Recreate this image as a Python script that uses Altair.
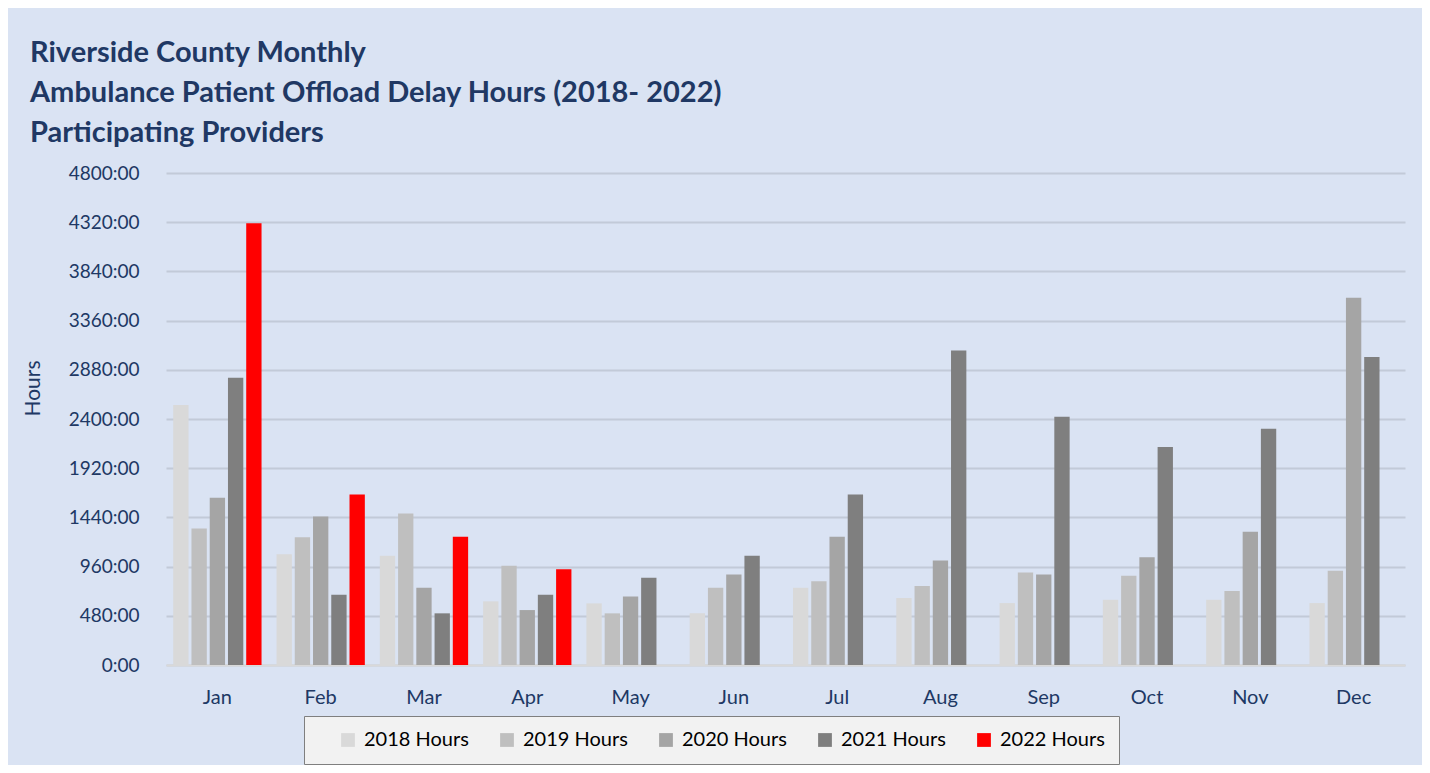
import altair as alt
import pandas as pd

months = ["Jan", "Feb", "Mar", "Apr", "May", "Jun", "Jul", "Aug", "Sep", "Oct", "Nov", "Dec"]
series = ["2018 Hours", "2019 Hours", "2020 Hours", "2021 Hours", "2022 Hours"]
colors = ["#d9d9d9", "#bfbfbf", "#a5a5a5", "#7f7f7f", "#ff0000"]

h2018 = [2537, 1081, 1066, 621, 601, 504, 754, 653, 604, 637, 637, 604]
h2019 = [1332, 1247, 1478, 968, 504, 754, 818, 770, 903, 871, 721, 920]
h2020 = [1631, 1449, 754, 536, 669, 884, 1251, 1020, 884, 1052, 1300, 3582]
h2021 = [2803, 686, 504, 686, 851, 1066, 1663, 3069, 2423, 2128, 2306, 3004]
h2022 = [4310, 1663, 1251, 935]

rows = []
for s, vals in zip(series, [h2018, h2019, h2020, h2021, h2022]):
    for m, v in zip(months, vals):
        rows.append({"month": m, "series": s, "hours": v})
df = pd.DataFrame(rows)

NAVY = "#203864"
FONT = "Lato"

chart = (
    alt.Chart(df)
    .mark_bar()
    .encode(
        x=alt.X(
            "month:N",
            sort=months,
            scale=alt.Scale(paddingInner=0.145, paddingOuter=0.07),
            axis=alt.Axis(
                title=None,
                labelAngle=0,
                ticks=False,
                domainColor="#d9d9d9",
                domainWidth=2,
                labelPadding=22,
                labelFontSize=20,
                labelFont=FONT,
                labelColor=NAVY,
            ),
        ),
        xOffset=alt.XOffset("series:N", sort=series, scale=alt.Scale(paddingInner=0.16)),
        y=alt.Y(
            "hours:Q",
            scale=alt.Scale(domain=[0, 4800]),
            axis=alt.Axis(
                title="Hours",
                values=list(range(0, 4801, 480)),
                labelExpr="datum.value + ':00'",
                domain=False,
                ticks=False,
                gridColor="#c2cad8",
                gridWidth=2,
                labelPadding=27,
                labelFontSize=19,
                labelFont=FONT,
                labelColor=NAVY,
                titleFontSize=21,
                titleFont=FONT,
                titleFontWeight="normal",
                titleColor=NAVY,
                titleX=-133,
                titleY=215,
                titleAlign="center",
                titleBaseline="middle",
                titleAngle=-90,
            ),
        ),
        color=alt.Color(
            "series:N",
            sort=series,
            scale=alt.Scale(domain=series, range=colors),
            legend=alt.Legend(
                title=None,
                orient="none",
                legendX=138,
                legendY=543,
                direction="horizontal",
                fillColor="#f2f2f2",
                strokeColor="#7f7f7f",
                padding=14,
                symbolType="square",
                symbolSize=190,
                symbolStrokeWidth=0,
                symbolOffset=20,
                labelOffset=6,
                labelFontSize=20,
                labelFont=FONT,
                labelColor="#000000",
                columnPadding=8,
            ),
        ),
    )
    .properties(
        width=1239,
        height=492,
        autosize=alt.AutoSizeParams(type="none"),
        padding={"left": 158, "top": 165, "right": 17, "bottom": 100},
        background="#dae3f3",
        title=alt.Title(
            text=[
                "Riverside County Monthly",
                "Ambulance Patient Offload Delay Hours (2018- 2022)",
                "Participating Providers",
            ],
            anchor="start",
            frame="group",
            dx=-136,
            offset=16,
            fontSize=29,
            font=FONT,
            fontWeight="bold",
            color=NAVY,
            lineHeight=40,
        ),
    )
    .configure_view(stroke=None)
)

chart.save("out.html", embed_options={"renderer": "svg", "actions": False})
